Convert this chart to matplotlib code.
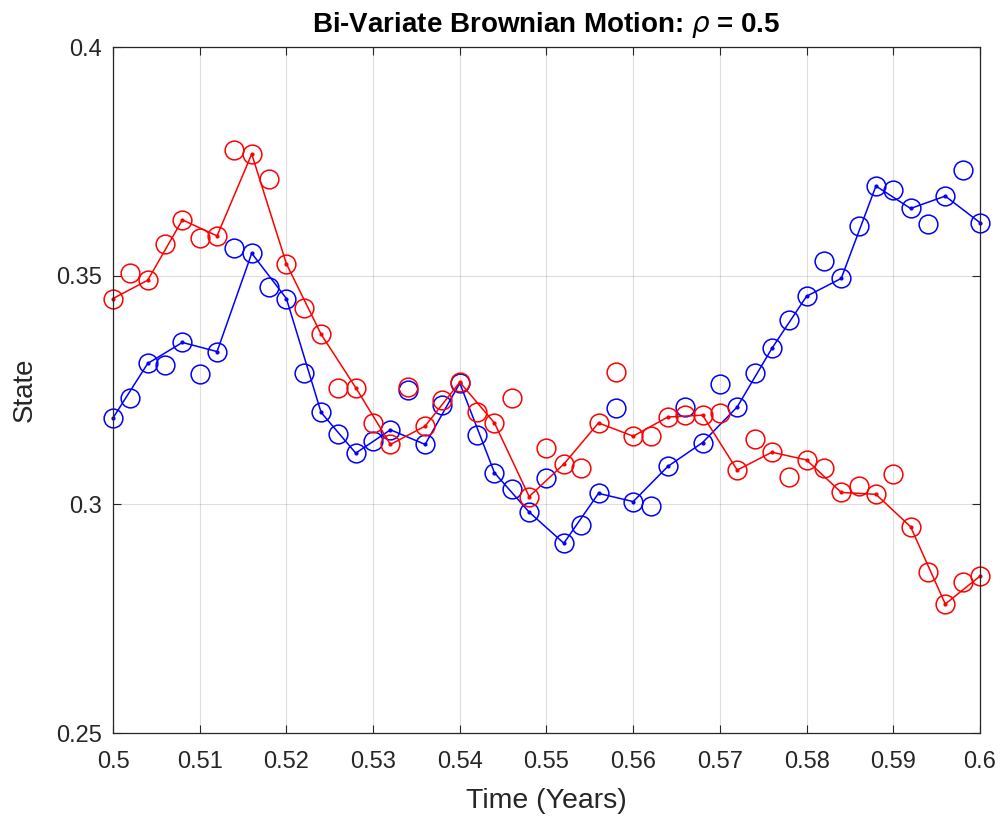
import matplotlib
matplotlib.use("Agg")
import matplotlib.pyplot as plt
import numpy as np

# time grid, dt = 0.002 years
t = np.linspace(0.5, 0.6, 51)

# state of the two correlated paths
x1 = [0.3189, 0.3233, 0.3308, 0.3305, 0.3354, 0.3286, 0.3334, 0.3560, 0.3549, 0.3476,
      0.3450, 0.3287, 0.3201, 0.3154, 0.3112, 0.3139, 0.3163, 0.3250, 0.3131, 0.3217,
      0.3265, 0.3151, 0.3069, 0.3034, 0.2983, 0.3057, 0.2915, 0.2955, 0.3024, 0.3210,
      0.3006, 0.2996, 0.3083, 0.3212, 0.3135, 0.3263, 0.3213, 0.3287, 0.3341, 0.3402,
      0.3455, 0.3531, 0.3494, 0.3609, 0.3696, 0.3687, 0.3647, 0.3614, 0.3674, 0.3731,
      0.3616]
x2 = [0.3450, 0.3505, 0.3490, 0.3569, 0.3622, 0.3583, 0.3587, 0.3775, 0.3766, 0.3711,
      0.3526, 0.3429, 0.3372, 0.3255, 0.3255, 0.3177, 0.3131, 0.3256, 0.3171, 0.3228,
      0.3267, 0.3201, 0.3178, 0.3233, 0.3017, 0.3124, 0.3088, 0.3079, 0.3178, 0.3289,
      0.3149, 0.3149, 0.3191, 0.3195, 0.3195, 0.3199, 0.3075, 0.3142, 0.3114, 0.3059,
      0.3097, 0.3080, 0.3026, 0.3040, 0.3022, 0.3066, 0.2951, 0.2851, 0.2782, 0.2831,
      0.2843]

plt.rcParams['font.family'] = ['Liberation Sans', 'DejaVu Sans']
txt = '#262626'

fig = plt.figure(figsize=(10.02, 8.16), dpi=100)
ax = fig.add_axes([0.1128, 0.1017, 0.8652, 0.8407])

for y, c in [(x1, 'b'), (x2, 'r')]:
    ax.plot(t, y, 'o', mfc='none', mec=c, ms=13.5, mew=1.1, clip_on=False)
    ax.plot(t[::2], np.array(y)[::2], '.-', color=c, lw=1.1, ms=4, clip_on=False)

ax.set_xlim(0.5, 0.6)
ax.set_ylim(0.25, 0.4)
ax.set_xticks(np.arange(0.5, 0.6001, 0.01))
ax.set_xticklabels(['0.5', '0.51', '0.52', '0.53', '0.54', '0.55', '0.56',
                    '0.57', '0.58', '0.59', '0.6'])
ax.set_yticks([0.25, 0.3, 0.35, 0.4])
ax.set_yticklabels(['0.25', '0.3', '0.35', '0.4'])
ax.grid(True, color='#262626', alpha=0.15, lw=0.8)
ax.tick_params(direction='in', top=True, right=True, length=6, width=0.8,
               colors=txt, labelsize=17)
ax.tick_params(axis='x', pad=13)
ax.tick_params(axis='y', pad=8)
for s in ax.spines.values():
    s.set_color(txt)
    s.set_linewidth(0.9)

ax.set_xlabel('Time (Years)', fontsize=20.5, color=txt, labelpad=11)
ax.set_ylabel('State', fontsize=20, color=txt, labelpad=13)
ax.set_title(r'Bi-Variate Brownian Motion: $\rho$ = 0.5', fontsize=20,
             fontweight='bold', color='black', pad=11)

fig.savefig('out.png', dpi=100)
